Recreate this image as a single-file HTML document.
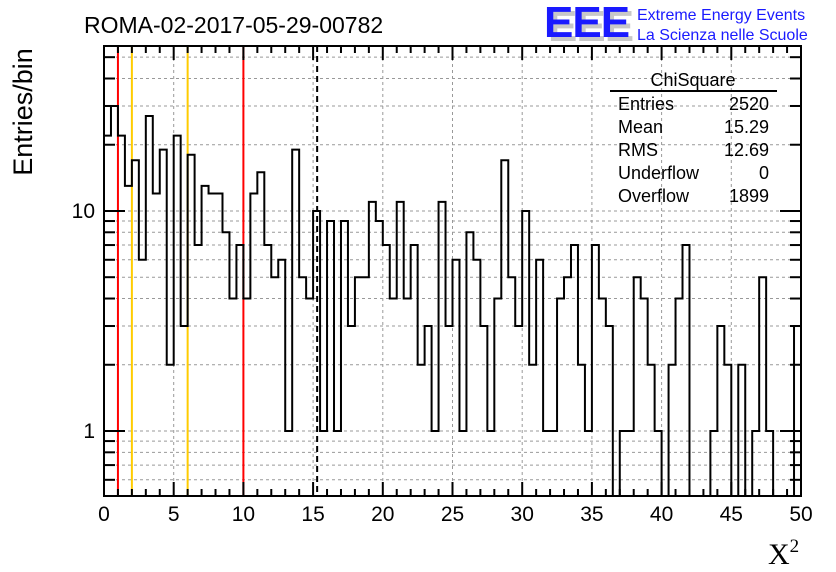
<!DOCTYPE html>
<html><head><meta charset="utf-8"><style>
html,body{margin:0;padding:0;background:#fff}
svg{display:block;font-family:"Liberation Sans",Arial,sans-serif}
</style></head><body>
<svg id="chart" width="836" height="572" viewBox="0 0 836 572" xmlns="http://www.w3.org/2000/svg">
<rect width="836" height="572" fill="#fff"/>
<g id="grid"></g>
<g id="refs"></g>
<g id="hist"></g>
<g id="axes"></g>
<text x="84" y="33" font-size="23">ROMA-02-2017-05-29-00782</text>
<g>
<text x="548" y="41" font-size="44" font-weight="bold" fill="#c8c8c8" letter-spacing="-1">EEE</text>
<text x="544" y="37" font-size="44" font-weight="bold" fill="#1a1aff" letter-spacing="-1">EEE</text>
<text x="637" y="20" font-size="16" fill="#1a1aff">Extreme Energy Events</text>
<text x="637" y="40" font-size="16" fill="#1a1aff">La Scienza nelle Scuole</text>
</g>
<text transform="translate(32,112) rotate(-90)" text-anchor="middle" font-size="27">Entries/bin</text>
<text x="768" y="564" font-size="30" font-family="Liberation Serif,serif">X<tspan font-size="19" dy="-12">2</tspan></text>
<g font-size="18">
<text x="693" y="86" text-anchor="middle">ChiSquare</text>
<line x1="610" y1="91" x2="777" y2="91" stroke="#000" stroke-width="2"/>
<text x="618" y="110">Entries</text><text x="769" y="110" text-anchor="end">2520</text>
<text x="618" y="133">Mean</text><text x="769" y="133" text-anchor="end">15.29</text>
<text x="618" y="156">RMS</text><text x="769" y="156" text-anchor="end">12.69</text>
<text x="618" y="179">Underflow</text><text x="769" y="179" text-anchor="end">0</text>
<text x="618" y="202">Overflow</text><text x="769" y="202" text-anchor="end">1899</text>
</g>
</svg>
<script>
const binEdgesMin = 0;
const binEdgesMax = 50;
const counts = [22,30,22,13,17,6,27,12,19,2,22,3,18,7,13,12,12,8,4,7,4,12,15,7,5,6,1,19,5,4,10,1,9,1,9,3,5,5,11,9,7,4,11,4,7,2,3,1,11,3,6,1,8,6,3,1,4,17,5,3,10,2,6,1,1,4,5,7,2,1,7,4,3,0,1,1,5,4,2,1,0,2,4,7,0,0,0,1,3,2,0,2,0,1,5,1,0,0,0,3];
const xTicks = [0,5,10,15,20,25,30,35,40,45,50];
const yMajor = [1,10];
const yMinor = [0.6,0.7,0.8,0.9,2,3,4,5,6,7,8,9,20,30,40,50];
const refRed = [1,10];
const refOrange = [2,6];
const meanValue = 15.29;

const NS='http://www.w3.org/2000/svg';
const L=104,R=801,T=46,B=496;
const yMin=0.5065,yMax=56.2;
function sx(v){return L+(v-binEdgesMin)/(binEdgesMax-binEdgesMin)*(R-L);}
function sy(v){if(v<=0)return B+5;return B-(Math.log10(v)-Math.log10(yMin))/(Math.log10(yMax)-Math.log10(yMin))*(B-T);}
function mk(tag,attrs,parent){const e=document.createElementNS(NS,tag);for(const k in attrs)e.setAttribute(k,attrs[k]);parent.appendChild(e);return e;}
const grid=document.getElementById('grid'),axes=document.getElementById('axes'),hist=document.getElementById('hist'),refs=document.getElementById('refs');

xTicks.forEach(t=>{if(t>binEdgesMin&&t<binEdgesMax){const g=mk('line',{x1:sx(t),x2:sx(t),y1:T,y2:B,stroke:'#999','stroke-width':1,'stroke-dasharray':'3,3'},grid);

}});
yMajor.concat(yMinor).forEach(t=>{const g=mk('line',{x1:L,x2:R,y1:sy(t),y2:sy(t),stroke:'#999','stroke-width':1,'stroke-dasharray':'3,3'},grid);

});

const clip=mk('clipPath',{id:'pc'},document.getElementById('chart'));
mk('rect',{x:L,y:T,width:R-L,height:B-T},clip);
hist.setAttribute('clip-path','url(#pc)');
refs.setAttribute('clip-path','url(#pc)');

refRed.forEach(v=>{const e=mk('line',{x1:sx(v),x2:sx(v),y1:T,y2:B,stroke:'#ff0000','stroke-width':2},refs);

});
refOrange.forEach(v=>{const e=mk('line',{x1:sx(v),x2:sx(v),y1:T,y2:B,stroke:'#ffcc00','stroke-width':2},refs);

});
const ml=mk('line',{x1:sx(meanValue),x2:sx(meanValue),y1:T,y2:B,stroke:'#000','stroke-width':2,'stroke-dasharray':'6,4'},refs);



const bw=(binEdgesMax-binEdgesMin)/counts.length;
let d='M'+sx(binEdgesMin)+','+sy(counts[0]);
counts.forEach((c,i)=>{const x0=sx(binEdgesMin+i*bw),x1=sx(binEdgesMin+(i+1)*bw);d+=' L'+x0+','+sy(c)+' L'+x1+','+sy(c);});
const hp=mk('path',{d:d,fill:'none',stroke:'#000','stroke-width':2},hist);



mk('rect',{x:L,y:T,width:R-L,height:B-T,fill:'none',stroke:'#000','stroke-width':2},axes);
for(let v=binEdgesMin;v<=binEdgesMax;v+=1){const major=v%5===0;const len=major?14:7;
mk('line',{x1:sx(v),x2:sx(v),y1:B,y2:B-len,stroke:'#000','stroke-width':2},axes);
mk('line',{x1:sx(v),x2:sx(v),y1:T,y2:T+len,stroke:'#000','stroke-width':2},axes);}
xTicks.forEach(t=>{const e=mk('text',{x:sx(t),y:521,'text-anchor':'middle','font-size':21},axes);e.textContent=t;

});
yMajor.forEach(t=>{mk('line',{x1:L,x2:L+21,y1:sy(t),y2:sy(t),stroke:'#000','stroke-width':2},axes);
mk('line',{x1:R,x2:R-21,y1:sy(t),y2:sy(t),stroke:'#000','stroke-width':2},axes);
const e=mk('text',{x:95,y:sy(t)+7,'text-anchor':'end','font-size':21},axes);e.textContent=t;

});
yMinor.forEach(t=>{mk('line',{x1:L,x2:L+11,y1:sy(t),y2:sy(t),stroke:'#000','stroke-width':2},axes);
mk('line',{x1:R,x2:R-11,y1:sy(t),y2:sy(t),stroke:'#000','stroke-width':2},axes);});
</script>
</body></html>
